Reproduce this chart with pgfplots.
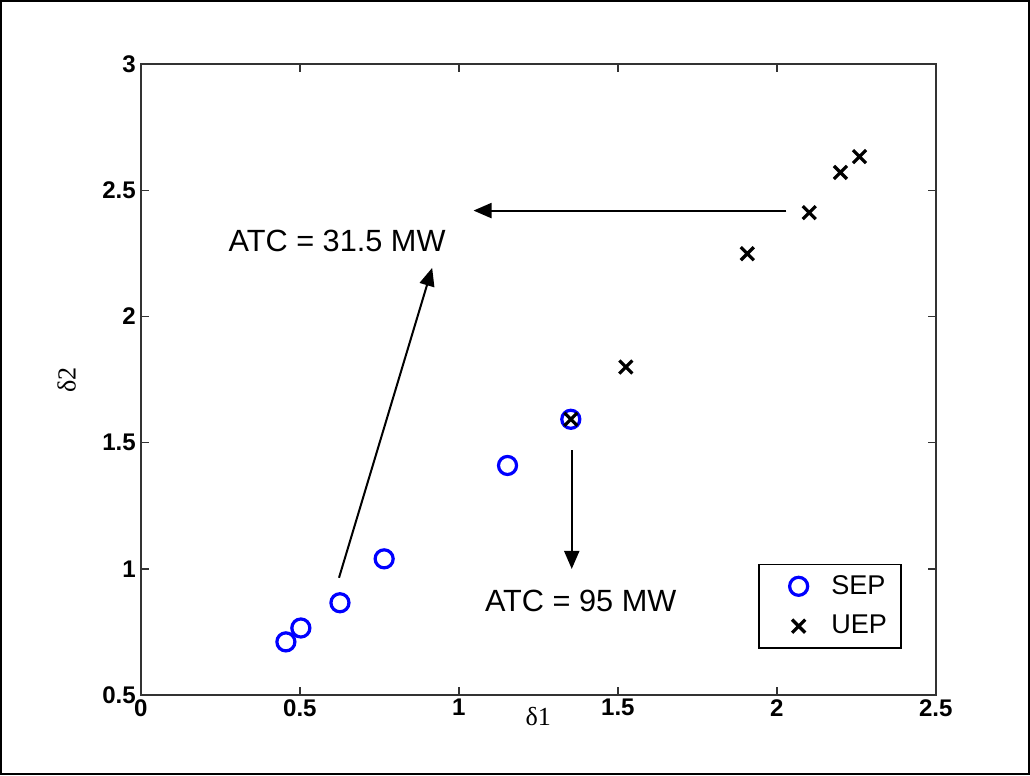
\documentclass[border=0pt]{standalone}
\usepackage{fontspec}
\setmainfont{Liberation Sans}
\newfontfamily\serifgr{Liberation Serif}
\usepackage{pgfplots}
\pgfplotsset{compat=1.18}
\usetikzlibrary{arrows.meta}

\begin{document}
\begin{tikzpicture}
\begin{axis}[
  scale only axis,
  width=396.25pt, height=314.5pt,
  xmin=0, xmax=2.5, ymin=0.5, ymax=3,
  xtick={0,0.5,1,1.5,2,2.5},
  ytick={0.5,1,1.5,2,2.5,3},
  tick align=inside, major tick length=4pt,
  axis line style={line width=0.8pt, black!80},
  tick style={line width=0.7pt, black!80},
  /pgf/number format/assume math mode=true,
  tick label style={font=\fontsize{12}{14}\selectfont\bfseries},
  xticklabel style={yshift=1.5pt},
  yticklabel style={xshift=1pt},
  xlabel={\serifgr δ1},
  ylabel={\serifgr δ2},
  xlabel style={at={(rel axis cs:0.5,0)}, anchor=center, yshift=-10.5pt, font=\fontsize{13}{15}\selectfont},
  ylabel style={at={(rel axis cs:0,0.5)}, anchor=center, yshift=37pt, font=\fontsize{13}{15}\selectfont},
  clip=false,
  legend style={at={(rel axis cs:0.7767,0.2083)}, anchor=north west,
    draw=black, line width=0.6pt, font=\fontsize{13.5}{15}\selectfont,
    inner xsep=5pt, inner ysep=3.5pt, row sep=5pt},
  legend cell align=left,
  legend image code/.code={
    \path (-14pt,0) (10pt,0);
    \draw[#1,mark repeat=2,mark phase=2] plot coordinates {(-8pt,0pt) (0pt,0pt) (8pt,0pt)};
  },
]
\addplot[only marks, mark=o, mark size=4.5pt, line width=1.6pt, color=blue] coordinates {
  (0.456,0.711) (0.503,0.766) (0.626,0.866) (0.765,1.040) (1.153,1.410) (1.352,1.593)
};
\addlegendentry{\hspace{3.5pt}SEP}
\addplot[only marks, mark=x, mark size=4.6pt, line width=1.6pt, color=black] coordinates {
  (1.352,1.593) (1.525,1.800) (1.907,2.249) (2.102,2.412) (2.200,2.571) (2.260,2.634)
};
\addlegendentry{\hspace{3.5pt}UEP}
\draw[line width=1pt, -{Triangle[length=9pt,width=7.5pt]}] (axis cs:2.03,2.42) -- (axis cs:1.046,2.42);
\draw[line width=1pt, -{Triangle[length=9pt,width=7.5pt]}] (axis cs:0.623,0.965) -- (axis cs:0.916,2.193);
\draw[line width=1pt, -{Triangle[length=9pt,width=7.5pt]}] (axis cs:1.355,1.47) -- (axis cs:1.355,1.00);
\node[font=\fontsize{15.3}{18}\selectfont] at (axis cs:0.617,2.30) {ATC = 31.5 MW};
\node[font=\fontsize{15.3}{18}\selectfont] at (axis cs:1.383,0.874) {ATC = 95 MW};
\draw[line width=1pt] (axis cs:-0.440,0.186) rectangle (axis cs:2.793,3.2504);
\end{axis}
\end{tikzpicture}
\end{document}
